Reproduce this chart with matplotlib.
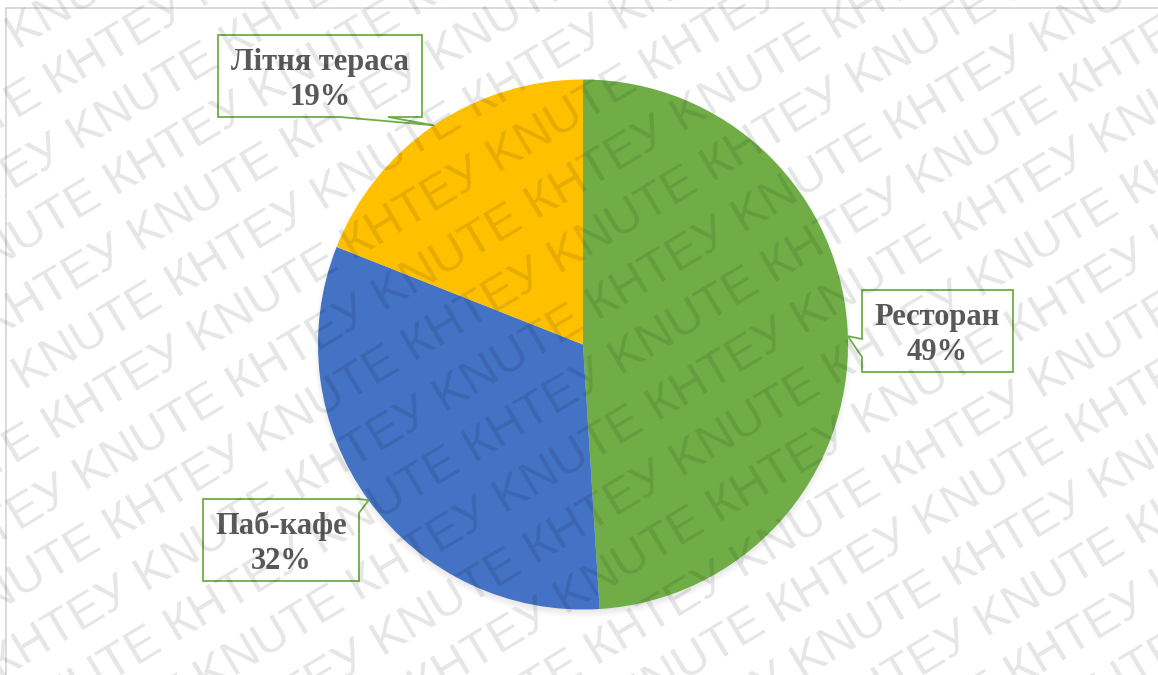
import matplotlib

matplotlib.use("Agg")
import matplotlib.pyplot as plt
import numpy as np
from matplotlib.font_manager import FontProperties
from matplotlib.patches import Circle, Polygon, Rectangle
from matplotlib.textpath import TextPath

# Share of revenue by venue type
labels = ["Ресторан", "Паб-кафе", "Літня тераса"]
shares = [49, 32, 19]
colors = ["#70AD47", "#4472C4", "#FFC000"]
mark_words = ["KNUTE", "КНТЕУ"]

W, H = 1158, 675
fig = plt.figure(figsize=(W / 100, H / 100), dpi=100)
ax = fig.add_axes([0, 0, 1, 1])

# outer chart frame (runs off the right and bottom edges)
ax.add_patch(Rectangle((6, -20), W + 40, H - 8 + 20, fill=False,
                       edgecolor="#d4d4d4", lw=1.2, zorder=0))

cx, cy, r = 583, H - 344.5, 265

# soft drop shadow under the pie
for i in range(8):
    ax.add_patch(Circle((cx, cy - 4), r + 4 - i, color="k", alpha=0.012,
                        lw=0, zorder=1))

wedges, _ = ax.pie(shares, colors=colors, startangle=90, counterclock=False,
                   center=(cx, cy), radius=r,
                   wedgeprops=dict(linewidth=0, zorder=2))

# callout boxes in pixel coords (y down): box, pointer side, pointer base
boxes = {
    "Ресторан": ((862, 290, 1013, 372), "left", (339, 357)),
    "Паб-кафе": ((203, 499, 359, 581), "right", (499, 513)),
    "Літня тераса": ((218, 35, 422, 117), "bottom", (340, 388)),
}

for w, name, share in zip(wedges, labels, shares):
    mid = np.radians((w.theta1 + w.theta2) / 2)
    tx = cx + r * np.cos(mid)
    ty = H - (cy + r * np.sin(mid))
    (x0, y0, x1, y1), side, (b0, b1) = boxes[name]
    if side == "left":
        pts = [(x0, y0), (x1, y0), (x1, y1), (x0, y1), (x0, b1), (tx, ty), (x0, b0)]
    elif side == "right":
        pts = [(x0, y0), (x1, y0), (x1, b0), (tx, ty), (x1, b1), (x1, y1), (x0, y1)]
    else:
        pts = [(x0, y0), (x1, y0), (x1, y1), (b1, y1), (tx, ty), (b0, y1), (x0, y1)]
    pts = [(px, H - py) for px, py in pts]
    ax.add_patch(Polygon(pts, closed=True, facecolor="white",
                         edgecolor="#70AD47", lw=1.3, zorder=4))
    xm = (x0 + x1) / 2
    for text, dy in ((name, 35), (f"{share}%", 70)):
        ax.text(xm, H - (y0 + dy), text, ha="center", va="baseline",
                fontsize=22, fontweight="bold", family="Liberation Serif",
                color="#595959", zorder=5)

# diagonal watermark, rows alternate which word comes first
ang = 31
fs = 35
u = np.array([np.cos(np.radians(ang)), np.sin(np.radians(ang))])
n = np.array([-u[1], u[0]])
fp = FontProperties(family="Liberation Sans")
size_px = fs * 100 / 72
first = TextPath((0, 0), mark_words[0], size=size_px, prop=fp).get_extents().width
triple = " ".join(mark_words + mark_words[:1])
period = TextPath((0, 0), triple, size=size_px, prop=fp).get_extents().width - first
step = 59
off0, along0 = -4, 515
start = along0 - 2 * period
for k in range(-12, 12):
    p = (off0 + k * step) * n + start * u
    order = mark_words if k % 2 == 0 else mark_words[::-1]
    ax.text(p[0], p[1], " ".join(order * 7), rotation=ang,
            rotation_mode="anchor", ha="left", va="baseline", fontsize=fs,
            family="Liberation Sans", color="k", alpha=0.1, zorder=10,
            clip_on=True)

ax.set_xlim(0, W)
ax.set_ylim(0, H)
ax.set_aspect("auto")
ax.axis("off")

fig.savefig("out.png", dpi=100)
plt.close(fig)
